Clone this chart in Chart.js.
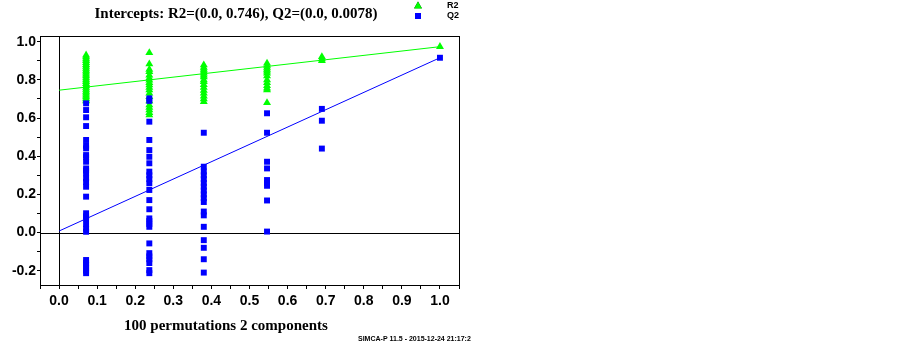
<!DOCTYPE html>
<html>
<head>
<meta charset="utf-8">
<script src="https://cdn.jsdelivr.net/npm/chart.js@4.4.1/dist/chart.umd.min.js"></script>
<style>
html,body{margin:0;padding:0;background:#fff;}
#wrap{width:903px;height:345px;position:relative;}
</style>
</head>
<body>
<div id="wrap"><canvas id="c" width="903" height="345"></canvas></div>
<script>
// ---- data ----
const titleText = 'Intercepts: R2=(0.0, 0.746), Q2=(0.0, 0.0078)';
const xAxisTitle = '100 permutations 2 components';
const footerText = 'SIMCA-P 11.5 - 2015-12-24 21:17:2';
const seriesNames = ['R2', 'Q2'];

// x position (correlation) of each permutation group
const groupX = [0.071, 0.237, 0.38, 0.546, 0.69, 1.0];

const r2Groups = [
  [0.93, 0.92, 0.91, 0.90, 0.89, 0.88, 0.87, 0.86, 0.85, 0.84, 0.83, 0.82, 0.81, 0.80, 0.79, 0.78, 0.77, 0.76, 0.75, 0.74, 0.73, 0.72, 0.71, 0.70, 0.69],
  [0.942, 0.883, 0.855, 0.843, 0.825, 0.81, 0.799, 0.785, 0.773, 0.76, 0.747, 0.73, 0.712, 0.69, 0.668, 0.655, 0.642, 0.628, 0.616],
  [0.878, 0.865, 0.855, 0.845, 0.835, 0.825, 0.815, 0.80, 0.79, 0.775, 0.76, 0.745, 0.73, 0.715, 0.70, 0.686],
  [0.887, 0.875, 0.865, 0.855, 0.845, 0.835, 0.82, 0.80, 0.785, 0.77, 0.757, 0.747, 0.68],
  [0.921, 0.91, 0.90],
  [0.974]
];
const q2Groups = [
  [0.677, 0.642, 0.604, 0.558, 0.485, 0.455, 0.441, 0.406, 0.395, 0.371, 0.336, 0.325, 0.310, 0.284, 0.265, 0.240, 0.188, 0.101, 0.085, 0.074, 0.045, 0.020, 0.004, -0.144, -0.158, -0.170, -0.185, -0.200, -0.213],
  [0.703, 0.69, 0.581, 0.485, 0.432, 0.397, 0.363, 0.319, 0.30, 0.28, 0.258, 0.223, 0.170, 0.122, 0.074, 0.06, 0.045, 0.030, -0.057, -0.108, -0.125, -0.14, -0.16, -0.197, -0.213],
  [0.523, 0.345, 0.32, 0.30, 0.28, 0.26, 0.24, 0.22, 0.20, 0.18, 0.16, 0.11, 0.09, 0.03, -0.04, -0.08, -0.14, -0.21],
  [0.625, 0.523, 0.371, 0.336, 0.275, 0.26, 0.245, 0.168, 0.005],
  [0.648, 0.586, 0.44],
  [0.916]
];

// regression lines: [x, y] of intercept and of the original model
const r2LineX = [0.0, 1.0];
const r2LineY = [0.746, 0.974];
const q2LineX = [0.0, 1.0];
const q2LineY = [0.0078, 0.916];

// tick labels
const xTickLabels = ['0.0','0.1','0.2','0.3','0.4','0.5','0.6','0.7','0.8','0.9','1.0'];
const yTickLabels = ['-0.2','0.0','0.2','0.4','0.6','0.8','1.0'];

// ---- build datasets ----
function groupPoints(groups) {
  const pts = [];
  groups.forEach((vals, i) => vals.forEach(v => pts.push({x: groupX[i], y: v})));
  return pts;
}
function linePoints(xs, ys) { return xs.map((x, i) => ({x: x, y: ys[i]})); }

const GREEN = '#00ff00';
const BLUE = '#0000ff';

const framePlugin = {
  id: 'frame',
  beforeDatasetsDraw(chart) {
    const {ctx, chartArea: a, scales} = chart;
    ctx.save();
    ctx.strokeStyle = '#000';
    ctx.lineWidth = 1;
    const x0 = Math.round(scales.x.getPixelForValue(0)) + 0.5;
    const y0 = Math.round(scales.y.getPixelForValue(0)) + 0.5;
    ctx.beginPath();
    ctx.moveTo(x0, a.top); ctx.lineTo(x0, a.bottom);
    ctx.moveTo(a.left, y0); ctx.lineTo(a.right, y0);
    ctx.stroke();
    ctx.restore();
  },
  afterDraw(chart) {
    const {ctx, chartArea: a} = chart;
    ctx.save();
    ctx.strokeStyle = '#000';
    ctx.lineWidth = 1;
    ctx.strokeRect(Math.round(a.left) + 0.5, Math.round(a.top) + 0.5, Math.round(a.right - a.left), Math.round(a.bottom - a.top));
    // title
    ctx.fillStyle = '#000';
    ctx.textAlign = 'center';
    ctx.textBaseline = 'middle';
    ctx.font = 'bold 15px "Liberation Serif", "Times New Roman", serif';
    ctx.fillText(titleText, 236, 14);
    // axis title
    ctx.fillText(xAxisTitle, 226, 326);
    // footer
    ctx.font = 'bold 7px "Liberation Sans Narrow", "Liberation Sans", Arial, sans-serif';
    ctx.textAlign = 'left';
    ctx.fillText(footerText, 358, 339);
    // legend
    const items = [
      {name: seriesNames[0], color: GREEN, style: 'triangle', y: 6},
      {name: seriesNames[1], color: BLUE, style: 'rect', y: 16}
    ];
    items.forEach(it => {
      Chart.helpers.drawPoint(ctx, {pointStyle: it.style, radius: it.style === 'rect' ? 4 : 4.5, borderWidth: 0}, 418, it.y);
      ctx.fillStyle = it.color;
      ctx.beginPath();
      if (it.style === 'triangle') {
        ctx.moveTo(418, it.y - 4.5); ctx.lineTo(422, it.y + 2.5); ctx.lineTo(414, it.y + 2.5); ctx.closePath();
      } else {
        ctx.rect(415, it.y - 3, 6, 6);
      }
      ctx.fill();
      ctx.fillStyle = '#000';
      ctx.font = 'bold 9px "Liberation Sans", Arial, sans-serif';
      ctx.textAlign = 'left';
      ctx.fillText(it.name, 447, it.y);
    });
    ctx.restore();
  }
};

new Chart(document.getElementById('c'), {
  type: 'scatter',
  data: {
    datasets: [
      {type: 'line', label: 'R2 line', data: linePoints(r2LineX, r2LineY), borderColor: GREEN, borderWidth: 1, pointRadius: 0, fill: false, order: 0},
      {type: 'line', label: 'Q2 line', data: linePoints(q2LineX, q2LineY), borderColor: BLUE, borderWidth: 1, pointRadius: 0, fill: false, order: 0},
      {label: seriesNames[1], data: groupPoints(q2Groups), pointStyle: 'rect', pointRadius: 4.2, backgroundColor: BLUE, borderColor: BLUE, borderWidth: 0, order: 1},
      {label: seriesNames[0], data: groupPoints(r2Groups), pointStyle: 'triangle', pointRadius: 4.6, backgroundColor: GREEN, borderColor: GREEN, borderWidth: 0, order: 2}
    ]
  },
  options: {
    responsive: false,
    animation: false,
    events: [],
    layout: {padding: {left: 0, top: 36, right: 444, bottom: 0}},
    plugins: {legend: {display: false}, title: {display: false}, tooltip: {enabled: false}},
    scales: {
      x: {
        type: 'linear', min: -0.05, max: 1.05,
        afterBuildTicks(s) {
          const t = [];
          for (let i = -1; i <= 21; i++) t.push({value: i / 20});
          s.ticks = t;
        },
        afterFit(s) { s.height = 60; },
        grid: {display: true, drawOnChartArea: false, drawTicks: true, tickLength: 4, color: '#000', tickColor: '#000'},
        border: {display: true, color: '#000', width: 1},
        ticks: {
          autoSkip: false, maxRotation: 0, padding: 4, color: '#000',
          font: {family: '"Liberation Sans", Arial, sans-serif', size: 14, weight: 'bold'},
          callback(v) {
            const k = Math.round(v * 20);
            if (k % 2 !== 0 || k < 0) return '';
            return xTickLabels[k / 2] || '';
          }
        }
      },
      y: {
        type: 'linear', min: -0.275, max: 1.03,
        afterBuildTicks(s) {
          const t = [];
          for (let i = -2; i <= 10; i++) t.push({value: i / 10});
          s.ticks = t;
        },
        afterFit(s) { s.width = 40; },
        grid: {display: true, drawOnChartArea: false, drawTicks: true, tickLength: 3, color: '#000', tickColor: '#000'},
        border: {display: true, color: '#000', width: 1},
        ticks: {
          autoSkip: false, padding: 1, color: '#000',
          font: {family: '"Liberation Sans", Arial, sans-serif', size: 14, weight: 'bold'},
          callback(v) {
            const k = Math.round(v * 10);
            if (k % 2 !== 0) return '';
            return yTickLabels[(k + 2) / 2] || '';
          }
        }
      }
    }
  },
  plugins: [framePlugin]
});
</script>
</body>
</html>
